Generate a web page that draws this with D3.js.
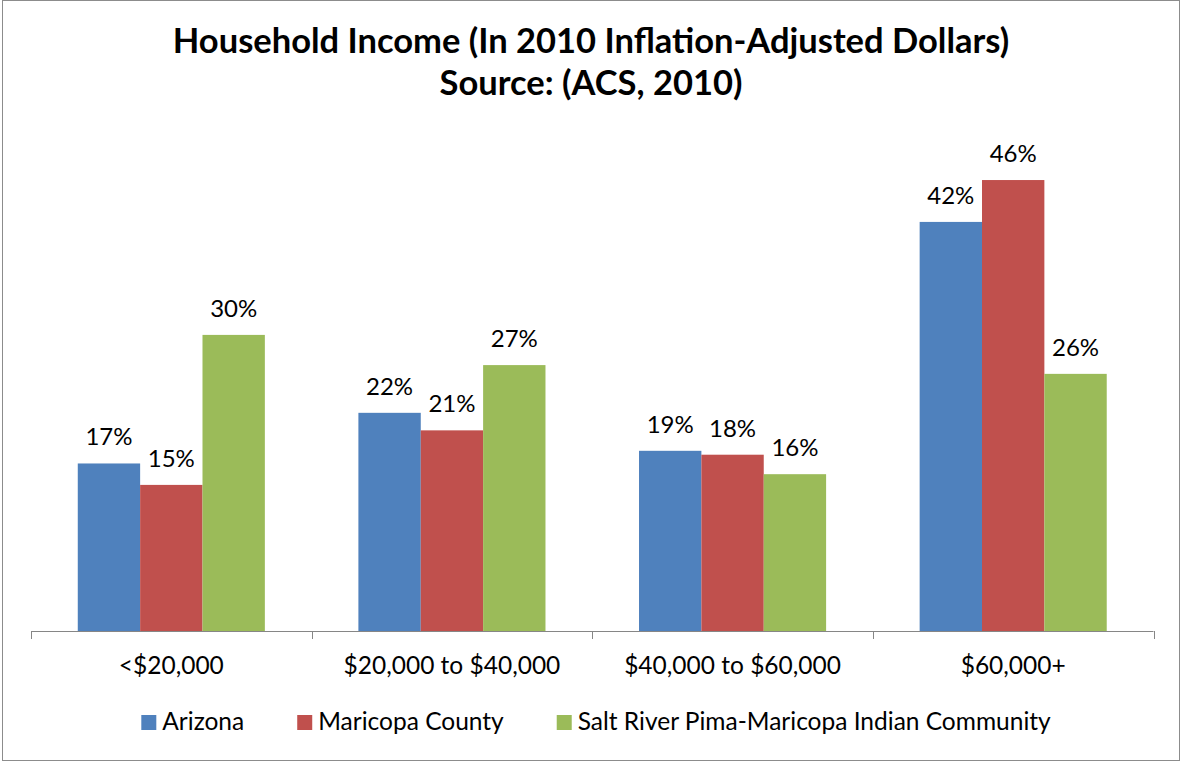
<!DOCTYPE html>
<html lang="en">
<head>
  <meta charset="UTF-8" />
  <title>Household Income</title>
  <script src="https://d3js.org/d3.v7.min.js"></script>
  <style>
    body {
      margin: 0;
      padding: 0;
      background: white;
      font-family: Lato, "Open Sans", sans-serif;
    }
    svg { display: block; }
  </style>
</head>
<body>
  <svg id="chart" width="1182" height="762"></svg>

  <script>
    // Data (percent of households)
    const categories = ["<$20,000", "$20,000 to $40,000", "$40,000 to $60,000", "$60,000+"];
    const seriesNames = ["Arizona", "Maricopa County", "Salt River Pima-Maricopa Indian Community"];
    const arizona = [17.2, 22.4, 18.5, 42.0];
    const maricopa = [15.0, 20.6, 18.1, 46.3];
    const saltRiver = [30.4, 27.3, 16.1, 26.4];
    const titleLines = ["Household Income (In 2010 Inflation-Adjusted Dollars)", "Source: (ACS, 2010)"];

    const colors = ["#4F81BD", "#C0504D", "#9BBB59"];
    const allSeries = [arizona, maricopa, saltRiver];

    const plot = { left: 31, right: 1153.5, top: 144, bottom: 631 };

    const svg = d3.select("#chart");

    // outer border
    svg.append("rect")
      .attr("x", 2.5).attr("y", 0.5)
      .attr("width", 1177).attr("height", 760)
      .attr("fill", "white")
      .attr("stroke", "#8c8c8c")
      .attr("stroke-width", 1);

    // title
    svg.selectAll("text.title")
      .data(titleLines)
      .enter()
      .append("text")
      .attr("class", "title")
      .attr("x", 591)
      .attr("y", (d, i) => 53 + i * 42)
      .attr("text-anchor", "middle")
      .style("font-size", "34.5px")
      .style("font-weight", "bold")
      .text(d => d);

    const x0 = d3.scaleBand()
      .domain(categories)
      .range([plot.left, plot.right])
      .paddingInner(0)
      .paddingOuter(0);

    const x1 = d3.scaleBand()
      .domain(seriesNames)
      .range([0, x0.bandwidth()])
      .paddingInner(0)
      .paddingOuter(0.75);

    const y = d3.scaleLinear()
      .domain([0, 50])
      .range([plot.bottom, plot.top]);

    const rows = [];
    categories.forEach((c, ci) => {
      seriesNames.forEach((s, si) => {
        rows.push({ cat: c, series: s, si: si, value: allSeries[si][ci] });
      });
    });

    svg.selectAll("rect.bar")
      .data(rows)
      .enter()
      .append("rect")
      .attr("class", "bar")
      .attr("x", d => x0(d.cat) + x1(d.series))
      .attr("width", x1.bandwidth())
      .attr("y", d => y(d.value))
      .attr("height", d => y(0) - y(d.value))
      .attr("fill", d => colors[d.si]);

    svg.selectAll("text.val")
      .data(rows)
      .enter()
      .append("text")
      .attr("class", "val")
      .attr("x", d => x0(d.cat) + x1(d.series) + x1.bandwidth() / 2)
      .attr("y", d => y(d.value) - 18)
      .attr("text-anchor", "middle")
      .style("font-size", "24px")
      .text(d => Math.round(d.value) + "%");

    // category axis
    svg.append("line")
      .attr("x1", plot.left).attr("x2", plot.right)
      .attr("y1", plot.bottom + 0.5).attr("y2", plot.bottom + 0.5)
      .attr("stroke", "#868686");

    const tickPos = categories.map(c => x0(c)).concat([plot.right]);
    svg.selectAll("line.tick")
      .data(tickPos)
      .enter()
      .append("line")
      .attr("class", "tick")
      .attr("x1", d => Math.round(d) + 0.5).attr("x2", d => Math.round(d) + 0.5)
      .attr("y1", plot.bottom).attr("y2", plot.bottom + 8)
      .attr("stroke", "#868686");

    const axis = d3.axisBottom(x0).tickSize(0).tickPadding(0);
    const gx = svg.append("g")
      .attr("transform", `translate(0,${plot.bottom})`)
      .call(axis);
    gx.select(".domain").remove();
    gx.selectAll("text")
      .attr("dy", null)
      .attr("y", 43)
      .style("font-family", "Lato, sans-serif")
      .style("font-size", "24.5px")
      .attr("fill", "black");

    // legend
    const legend = svg.append("g");
    const items = legend.selectAll("g.item")
      .data(seriesNames)
      .enter()
      .append("g")
      .attr("class", "item");
    items.append("rect")
      .attr("width", 15).attr("height", 15)
      .attr("y", 715)
      .attr("fill", (d, i) => colors[i]);
    items.append("text")
      .attr("x", 21)
      .attr("y", 730)
      .style("font-size", "24.5px")
      .text(d => d);

    let cx = 0;
    const gap = 53;
    const offsets = [];
    items.each(function() {
      const w = 21 + this.querySelector("text").getComputedTextLength();
      offsets.push([cx, w]);
      cx += w + gap;
    });
    const total = cx - gap;
    const start = 596 - total / 2;
    items.attr("transform", (d, i) => `translate(${start + offsets[i][0]},0)`);
  </script>
</body>
</html>
